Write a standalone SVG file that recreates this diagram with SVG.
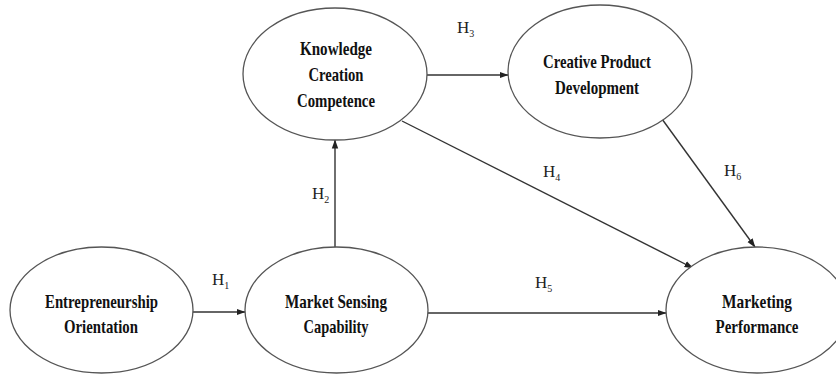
<svg xmlns="http://www.w3.org/2000/svg" width="836" height="374" viewBox="0 0 836 374">
<style>
.node ellipse{fill:#fff;stroke:#555;stroke-width:1.3}
.lbl{font-family:"Liberation Serif","Times New Roman",serif;font-weight:bold;font-size:19px;fill:#111;text-anchor:middle}
.h{font-family:"Liberation Serif","Times New Roman",serif;font-size:17px;fill:#222}
.h tspan{font-size:10px}
.conn line{stroke:#333;stroke-width:1.4;fill:none}
</style>
<defs>
<marker id="arr" markerWidth="9" markerHeight="8" refX="8.5" refY="4" orient="auto" markerUnits="userSpaceOnUse">
<path d="M0,0.8 L9,4 L0,7.2 Z" fill="#222"/>
</marker>
</defs>
<rect width="836" height="374" fill="#fff"/>
<g id="connectors" class="conn">
<line x1="193" y1="312" x2="245" y2="312" marker-end="url(#arr)"/>
<line x1="335" y1="247" x2="335" y2="140" marker-end="url(#arr)"/>
<line x1="427" y1="75" x2="508" y2="75" marker-end="url(#arr)"/>
<line x1="402" y1="121" x2="693" y2="268" marker-end="url(#arr)"/>
<line x1="428" y1="313" x2="666" y2="313" marker-end="url(#arr)"/>
<line x1="662" y1="119" x2="755" y2="247" marker-end="url(#arr)"/>
</g>
<g id="labels">
<text class="h" x="212" y="285">H<tspan dy="4">1</tspan></text>
<text class="h" x="312" y="199">H<tspan dy="4">2</tspan></text>
<text class="h" x="457" y="33">H<tspan dy="4">3</tspan></text>
<text class="h" x="543" y="177">H<tspan dy="4">4</tspan></text>
<text class="h" x="535" y="288">H<tspan dy="4">5</tspan></text>
<text class="h" x="724" y="176">H<tspan dy="4">6</tspan></text>
</g>
<g id="entrepreneurship-orientation" class="node">
<ellipse cx="101.5" cy="310" rx="91.5" ry="63"/>
<text class="lbl" x="101.5" y="308" textLength="113" lengthAdjust="spacingAndGlyphs">Entrepreneurship</text>
<text class="lbl" x="101" y="333" textLength="74" lengthAdjust="spacingAndGlyphs">Orientation</text>
</g>
<g id="market-sensing-capability" class="node">
<ellipse cx="336.5" cy="310" rx="91.5" ry="63"/>
<text class="lbl" x="336" y="308" textLength="102" lengthAdjust="spacingAndGlyphs">Market Sensing</text>
<text class="lbl" x="336" y="333" textLength="65" lengthAdjust="spacingAndGlyphs">Capability</text>
</g>
<g id="knowledge-creation-competence" class="node">
<ellipse cx="335" cy="74" rx="92" ry="66"/>
<text class="lbl" x="336" y="55" textLength="72" lengthAdjust="spacingAndGlyphs">Knowledge</text>
<text class="lbl" x="336" y="81" textLength="55" lengthAdjust="spacingAndGlyphs">Creation</text>
<text class="lbl" x="336" y="107" textLength="78" lengthAdjust="spacingAndGlyphs">Competence</text>
</g>
<g id="creative-product-development" class="node">
<ellipse cx="600" cy="71.5" rx="92" ry="66.5"/>
<text class="lbl" x="597" y="68" textLength="108" lengthAdjust="spacingAndGlyphs">Creative Product</text>
<text class="lbl" x="597" y="94" textLength="84" lengthAdjust="spacingAndGlyphs">Development</text>
</g>
<g id="marketing-performance" class="node">
<ellipse cx="757" cy="310" rx="91" ry="63"/>
<text class="lbl" x="757" y="308" textLength="70" lengthAdjust="spacingAndGlyphs">Marketing</text>
<text class="lbl" x="757" y="333" textLength="83" lengthAdjust="spacingAndGlyphs">Performance</text>
</g>
</svg>
